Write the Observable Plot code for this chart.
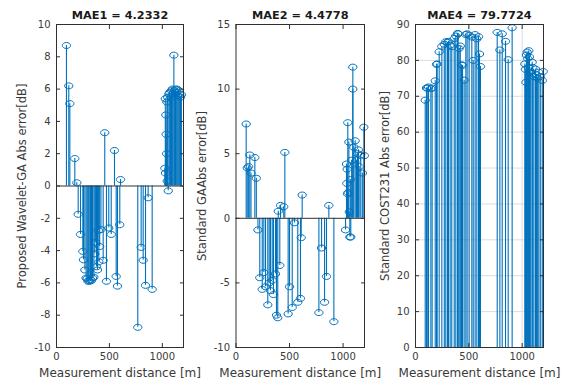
<!DOCTYPE html>
<html>
<head>
<meta charset="utf-8">
<script src="https://cdn.jsdelivr.net/npm/d3@7"></script>
<script src="https://cdn.jsdelivr.net/npm/@observablehq/plot@0.6"></script>
<style>
  body { margin: 0; background: #fff; }
  #chart { position: relative; width: 569px; height: 386px; overflow: hidden; background: #fff; }
</style>
</head>
<body>
<div id="chart"></div>
<script>
// ---- data ----
const titles = ["MAE1 = 4.2332", "MAE2 = 4.4778", "MAE4 = 79.7724"];
const yLabels = ["Proposed Wavelet-GA Abs error[dB]", "Standard GAAbs error[dB]", "Standard COST231 Abs error[dB]"];
const xLabel = "Measurement distance [m]";
const xTicks = [0, 500, 1000];
const yTicks1 = [-10, -8, -6, -4, -2, 0, 2, 4, 6, 8, 10];
const yTicks2 = [-10, -5, 0, 5, 10, 15];
const yTicks4 = [0, 10, 20, 30, 40, 50, 60, 70, 80, 90];

const dist1 = [94,116,126,173,192,205,227,249,255,268,280,290,298,305,315,322,331,340,353,362,370,378,387,395,400,408,420,441,456,472,494,517,548,564,576,598,605,768,800,819,841,866,904,1024,1028,1030,1033,1036,1040,1043,1046,1050,1056,1062,1070,1078,1086,1094,1100,1109,1116,1124,1132,1140,1148,1156,1164,1172,1180];
const err1 = [8.7,6.2,5.1,1.7,0.2,-1.75,-3.0,-4.05,-4.57,-5.2,-5.7,-5.75,-5.9,-5.85,-5.9,-5.8,-5.85,-5.7,-5.65,-4.2,-3.5,-5.0,-5.2,-2.75,-4.7,-3.75,-2.7,-4.6,3.3,-5.9,-2.6,-3.0,2.2,-5.6,-6.2,-2.4,0.4,-8.75,-3.8,-4.6,-6.15,-0.73,-6.4,1.1,5.4,0.8,4.4,3.2,2.0,5.2,0.3,5.5,-0.3,5.7,5.8,5.5,5.9,6.0,5.7,8.1,5.9,6.0,5.8,6.0,5.6,5.9,5.7,5.5,5.65];

const dist2 = [95,105,118,129,140,176,190,205,222,245,260,276,297,310,322,338,350,369,378,390,395,409,416,446,456,487,500,525,546,577,602,609,618,774,799,827,845,867,914,1023,1032,1035,1038,1041,1044,1048,1054,1058,1063,1068,1072,1080,1091,1091,1100,1113,1125,1135,1143,1150,1165,1180,1194,1199];
const err2 = [7.3,3.9,4.0,4.9,3.5,4.7,3.1,-0.9,-4.6,-5.5,-4.2,-5.3,-6.7,-5.0,-5.6,-4.8,-5.9,-4.3,-7.5,-7.7,0.55,-3.65,1.0,0.9,5.1,-7.4,-5.3,-6.9,-0.35,-6.5,-6.2,-1.5,1.8,-7.3,-2.3,-6.5,-4.5,1.0,-8.0,-0.9,4.2,2.7,3.8,1.9,7.4,2.0,5.9,0.5,-1.45,3.0,-1.45,4.5,11.7,10.0,5.5,6.0,4.5,5.0,5.3,4.0,4.9,3.5,7.05,4.85];

const dist4 = [91,103,110,122,144,156,185,197,203,222,247,270,284,300,309,325,340,363,378,394,400,409,420,431,441,456,472,484,503,528,541,559,575,591,600,609,766,791,813,844,869,906,1025,1030,1035,1040,1047,1052,1058,1062,1068,1075,1082,1094,1100,1110,1125,1135,1145,1156,1170,1188,1197];
const err4 = [68.9,72.3,72.3,72.6,72.1,72.3,74.3,78.9,79.0,82.4,83.9,84.5,85.2,85.0,85.3,84.2,83.8,86.1,86.8,87.5,87.4,83.3,84.0,78.8,78.6,74.5,87.2,87.4,87.0,86.5,80.0,87.2,86.0,86.6,81.8,78.3,87.8,82.9,87.4,85.3,80.2,89.1,79.0,77.5,73.9,81.5,82.3,80.5,78.0,82.7,81.0,77.0,76.5,79.5,78.0,75.5,77.6,76.0,75.0,76.7,75.5,74.4,76.9];

// ---- drawing ----
const BLUE = "#0072BD";
const AXIS = "#303030";
const H = 386;

// slightly wide open marker, like the reference's stretched circles
const ellipse = {
  draw(ctx, size) {
    const r = Math.sqrt(size / Math.PI);
    const rx = r * 1.18, ry = r * 0.86, k = 0.5523;
    ctx.moveTo(rx, 0);
    ctx.bezierCurveTo(rx, k * ry, k * rx, ry, 0, ry);
    ctx.bezierCurveTo(-k * rx, ry, -rx, k * ry, -rx, 0);
    ctx.bezierCurveTo(-rx, -k * ry, -k * rx, -ry, 0, -ry);
    ctx.bezierCurveTo(k * rx, -ry, rx, -k * ry, rx, 0);
    ctx.closePath();
  }
};

function stemPanel({dist, err, yDomain, yTicks, title, ylabel, left, width, mL, mR, grid, baseline, labelDx}) {
  const data = dist.map((d, i) => ({d, e: err[i]}));
  const svg = Plot.plot({
    width, height: H,
    marginLeft: mL, marginRight: mR, marginTop: 24, marginBottom: 39,
    style: {fontFamily: "'DejaVu Sans', sans-serif", fontSize: "10px", color: "#3a3a3a", background: "transparent", overflow: "visible"},
    x: {domain: [0, 1200]},
    y: {domain: yDomain},
    marks: [
      grid ? Plot.gridY(yTicks, {stroke: "#dcdcdc", strokeOpacity: 1}) : null,
      grid ? Plot.gridX(xTicks, {stroke: "#dcdcdc", strokeOpacity: 1}) : null,
      Plot.ruleX(data, {x: "d", y1: 0, y2: "e", stroke: BLUE, strokeWidth: 1.1}),
      baseline ? Plot.ruleY([0], {stroke: AXIS, strokeWidth: 1}) : null,
      Plot.dot(data, {x: "d", y: "e", r: 3.5, symbol: ellipse, fill: "none", stroke: BLUE, strokeWidth: 1}),
      Plot.frame({stroke: AXIS}),
      Plot.axisY({ticks: yTicks, anchor: "left", tickSize: -4, tickPadding: 10, tickFormat: d => String(d), label: null, stroke: AXIS}),
      Plot.axisY({ticks: yTicks, anchor: "right", tickSize: -4, tickFormat: () => "", label: null, stroke: AXIS}),
      Plot.axisX({ticks: xTicks, anchor: "bottom", tickSize: -4, tickPadding: 9, tickFormat: d => String(d), label: null, stroke: AXIS}),
      Plot.axisX({ticks: xTicks, anchor: "top", tickSize: -4, tickFormat: () => "", label: null, stroke: AXIS}),
      Plot.text([title], {text: d => d, frameAnchor: "top", dy: -9, textAnchor: "middle", lineAnchor: "middle", fontWeight: "bold", fontSize: 11.3, fill: "#1a1a1a"}),
      Plot.text([ylabel], {text: d => d, frameAnchor: "left", rotate: -90, dx: labelDx, textAnchor: "middle", lineAnchor: "middle", fontSize: 11.5, fill: "#3a3a3a"}),
      Plot.text([xLabel], {text: d => d, frameAnchor: "bottom", dy: 26, textAnchor: "middle", lineAnchor: "middle", fontSize: 12, fill: "#3a3a3a"})
    ]
  });
  svg.style.position = "absolute";
  svg.style.left = left + "px";
  svg.style.top = "0px";
  return svg;
}

const chart = document.getElementById("chart");
chart.appendChild(stemPanel({dist: dist1, err: err1, yDomain: [-10, 10], yTicks: yTicks1, title: titles[0], ylabel: yLabels[0], left: 0, width: 190, mL: 56, mR: 7, grid: false, baseline: true, labelDx: -34}));
chart.appendChild(stemPanel({dist: dist2, err: err2, yDomain: [-10, 15], yTicks: yTicks2, title: titles[1], ylabel: yLabels[1], left: 190, width: 185, mL: 45.5, mR: 11, grid: false, baseline: true, labelDx: -33.5}));
chart.appendChild(stemPanel({dist: dist4, err: err4, yDomain: [0, 90], yTicks: yTicks4, title: titles[2], ylabel: yLabels[2], left: 375, width: 194, mL: 40, mR: 26, grid: true, baseline: false, labelDx: -30}));
</script>
</body>
</html>
